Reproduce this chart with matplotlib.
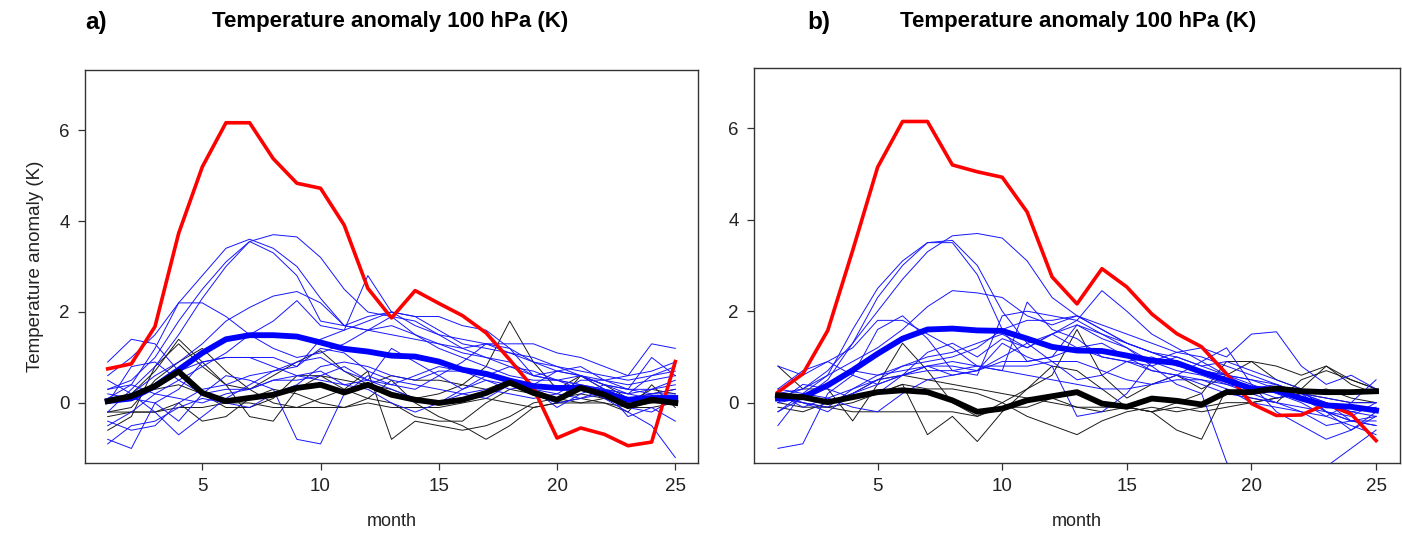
import numpy as np
import matplotlib
matplotlib.use("Agg")
import matplotlib.pyplot as plt

plt.rcParams["font.family"] = ["Liberation Sans", "DejaVu Sans"]

month = np.arange(1, 26)

# ---- panel a ----
red_a = [0.75, 0.86, 1.68, 3.73, 5.19, 6.16, 6.16, 5.37, 4.83, 4.72, 3.91, 2.52, 1.87,
         2.47, 2.19, 1.92, 1.54, 0.95, 0.33, -0.77, -0.55, -0.69, -0.94, -0.86, 0.91]
mean_blue_a = [0.04, 0.10, 0.37, 0.73, 1.10, 1.40, 1.49, 1.49, 1.46, 1.33, 1.19, 1.13, 1.04,
               1.02, 0.91, 0.73, 0.64, 0.49, 0.37, 0.33, 0.33, 0.22, 0.07, 0.11, 0.11]
mean_black_a = [0.04, 0.15, 0.37, 0.69, 0.22, 0.04, 0.11, 0.18, 0.33, 0.40, 0.23, 0.40, 0.18,
                0.07, 0.00, 0.07, 0.22, 0.45, 0.22, 0.07, 0.33, 0.18, -0.07, 0.07, 0.00]

blue_a = [
    [0.3, 0.5, 1.0, 1.8, 2.5, 3.1, 3.55, 3.7, 3.65, 3.2, 2.5, 2.0, 1.9, 1.8, 1.5, 1.2, 1.0, 0.8, 0.7, 0.5, 0.4, 0.3, 0.2, 0.3, 0.4],
    [0.1, 0.4, 1.2, 2.2, 2.8, 3.4, 3.6, 3.4, 3.0, 2.3, 1.7, 1.6, 1.7, 1.5, 1.3, 1.1, 1.0, 0.9, 0.6, 0.5, 0.6, 0.3, 0.1, 0.2, 0.3],
    [-0.2, 0.3, 0.8, 1.5, 2.3, 3.0, 3.55, 3.3, 2.8, 1.8, 1.7, 1.9, 2.0, 1.9, 1.6, 1.3, 1.2, 1.1, 1.0, 0.8, 0.6, 0.5, 0.4, 0.5, 0.6],
    [0.0, 0.2, 0.6, 0.9, 1.3, 1.8, 2.1, 2.35, 2.45, 2.2, 1.7, 1.6, 1.5, 1.4, 1.3, 1.2, 1.3, 1.1, 0.9, 0.8, 0.7, 0.6, 0.5, 0.6, 0.7],
    [0.6, 1.0, 1.5, 2.2, 2.2, 1.9, 1.5, 1.2, 1.0, 1.1, 1.3, 1.6, 1.9, 1.5, 1.2, 1.0, 0.8, 0.6, 0.5, 0.5, 0.4, 0.3, 0.2, 0.1, 0.0],
    [0.9, 1.4, 1.3, 0.7, 0.9, 1.0, 1.0, 1.0, 0.8, 1.4, 1.6, 2.8, 2.0, 1.7, 1.5, 1.4, 1.3, 1.3, 1.3, 1.1, 1.0, 0.8, 0.6, 1.3, 1.2],
    [-0.5, -0.2, 0.2, 0.5, 0.8, 1.1, 1.5, 1.8, 2.25, 1.7, 1.6, 1.8, 2.0, 1.9, 1.9, 1.7, 1.6, 1.2, 0.9, 0.7, 0.8, 0.5, 0.3, 1.0, 0.6],
    [0.2, 0.1, 0.0, -0.4, 0.2, 0.6, 0.5, 0.3, -0.8, -0.9, 0.2, 0.6, 0.4, 0.3, 0.6, 0.9, 1.3, 1.2, 0.6, 0.5, 0.3, 0.1, -0.2, -0.5, -1.2],
    [-0.8, -1.0, 0.0, 0.3, 0.9, 1.0, 1.0, 0.8, 0.6, 0.7, 0.4, 0.5, 1.2, 0.9, 0.6, 0.3, 0.5, 0.3, 0.4, 0.7, 0.6, 0.4, 0.2, 0.6, 0.8],
    [0.3, 0.4, 0.2, 0.1, 0.0, 0.2, 0.3, 0.5, 0.5, 0.6, 0.8, 0.5, 0.3, 0.1, 0.0, 0.3, 0.6, 0.8, 0.6, 0.7, 0.6, 0.4, 0.3, 0.2, 0.2],
    [-0.4, -0.6, -0.5, 0.0, 0.3, 0.4, 0.6, 0.7, 0.9, 1.0, 0.7, 0.5, 0.4, 0.6, 0.8, 0.7, 0.5, 0.4, 0.2, 0.0, 0.1, 0.3, -0.3, -0.1, -0.4],
    [0.0, 0.8, 0.9, 0.5, 0.2, 0.3, 0.3, 0.5, 0.6, 0.5, 0.4, 0.3, 0.0, -0.2, 0.0, 0.2, 0.3, 0.2, 0.1, 0.2, 0.1, 0.2, -0.1, -0.2, 0.1],
    [-0.9, -0.5, -0.4, -0.1, 0.1, 0.0, -0.1, 0.2, 0.4, 0.8, 0.9, 0.8, 0.6, 0.5, 0.7, 0.7, 0.6, 0.5, 0.3, -0.1, 0.2, 0.4, 0.3, 0.3, 0.5],
    [0.5, 0.2, -0.2, -0.7, -0.3, 0.1, 0.4, 0.7, 0.8, 1.2, 1.1, 0.7, 0.5, 0.4, 0.3, 0.2, 0.1, 0.4, 0.3, 0.2, 0.5, 0.5, 0.6, 0.7, 0.9],
]
black_a = [
    [-0.6, -0.3, 0.8, 1.3, 0.8, 0.4, 0.3, 0.6, 0.9, 1.15, 0.7, 0.4, 0.3, 0.1, 0.2, 0.4, 0.8, 1.8, 0.9, 0.3, 0.6, 0.3, 0.1, 0.2, 0.3],
    [-0.2, -0.1, 0.5, 0.9, 1.2, 0.7, 0.3, 0.0, -0.1, 0.1, 0.3, 0.7, -0.8, -0.4, -0.5, -0.6, -0.5, -0.3, 0.0, 0.1, 0.2, 0.1, -0.1, 0.0, 0.1],
    [0.0, 0.2, 0.7, 1.4, 0.9, 0.4, -0.3, -0.4, 0.3, 0.6, 0.5, 0.4, 0.6, 0.5, 0.5, 0.4, 0.3, 0.5, 0.3, 0.1, 0.0, 0.1, 0.0, 0.3, 0.2],
    [-0.3, -0.2, -0.2, 0.0, -0.4, -0.3, 0.1, 0.3, 0.2, 0.0, -0.1, 0.1, 0.5, 0.0, -0.3, -0.5, -0.8, -0.5, -0.1, 0.0, 0.6, 0.4, 0.1, 0.0, 0.0],
    [0.1, 0.2, 0.3, 0.4, 0.2, -0.1, -0.1, 0.1, 0.6, 0.6, 0.3, 0.1, 0.0, -0.3, -0.4, -0.4, 0.0, 0.3, 0.2, 0.0, 0.1, 0.0, -0.2, 0.4, -0.1],
    [-0.2, -0.2, -0.2, -0.1, -0.1, 0.0, 0.0, -0.1, -0.1, -0.1, -0.1, 0.0, -0.1, -0.1, -0.1, 0.0, 0.1, 0.0, -0.1, 0.0, 0.0, 0.0, -0.1, -0.1, 0.0],
]

# ---- panel b ----
red_b = [0.23, 0.63, 1.58, 3.33, 5.15, 6.15, 6.15, 5.20, 5.05, 4.93, 4.17, 2.75, 2.16,
         2.93, 2.53, 1.94, 1.51, 1.22, 0.63, -0.02, -0.28, -0.27, -0.03, -0.25, -0.83]
mean_blue_b = [0.09, 0.12, 0.38, 0.71, 1.07, 1.40, 1.60, 1.62, 1.58, 1.57, 1.40, 1.22, 1.14,
               1.13, 1.03, 0.92, 0.87, 0.67, 0.49, 0.31, 0.27, 0.09, -0.06, -0.09, -0.17]
mean_black_b = [0.16, 0.12, 0.01, 0.12, 0.23, 0.27, 0.23, 0.05, -0.20, -0.13, 0.05, 0.14, 0.23,
                -0.02, -0.09, 0.09, 0.04, -0.04, 0.23, 0.23, 0.31, 0.25, 0.23, 0.23, 0.25]

blue_b = [
    [0.2, 0.3, 0.7, 1.3, 2.0, 2.7, 3.3, 3.65, 3.7, 3.6, 3.1, 2.3, 1.9, 1.7, 1.5, 1.3, 1.1, 1.0, 0.8, 0.6, 0.4, 0.2, 0.0, -0.2, -0.3],
    [0.0, 0.1, 0.5, 1.3, 2.3, 3.0, 3.5, 3.55, 3.0, 2.0, 1.3, 1.5, 1.7, 1.5, 1.3, 1.1, 1.0, 0.8, 0.6, 0.5, 0.3, 0.1, -0.2, -0.4, -0.5],
    [-0.2, 0.2, 0.6, 1.6, 2.5, 3.1, 3.5, 3.5, 2.8, 1.6, 0.9, 1.0, 1.2, 1.0, 0.9, 1.0, 0.8, 0.7, 0.6, 0.4, 0.2, 0.0, -0.3, -0.5, -0.7],
    [0.1, 0.3, 0.6, 0.9, 1.2, 1.6, 2.1, 2.45, 2.4, 2.3, 1.9, 1.7, 1.9, 1.6, 1.3, 1.1, 0.9, 0.7, 0.6, 0.5, 0.4, 0.2, 0.1, 0.0, 0.0],
    [0.3, 0.7, 0.9, 1.2, 1.8, 1.8, 1.5, 1.2, 0.8, 0.7, 2.2, 1.6, 1.4, 1.0, 0.9, 0.8, 1.0, 0.8, 0.9, 0.7, 0.5, 0.3, -0.2, -0.6, -0.2],
    [0.8, 0.6, 0.9, 0.6, 0.4, 0.6, 1.1, 1.3, 1.0, 1.4, 1.2, 1.5, 1.8, 2.45, 2.0, 1.5, 1.2, 0.9, 0.6, 0.3, 0.3, 0.1, 0.0, -0.4, -0.5],
    [-1.0, -0.9, 0.2, 0.6, 1.6, 1.9, 1.4, 0.7, 0.6, 1.9, 2.0, 1.9, 1.8, 1.5, 1.2, 0.9, 0.7, 0.6, 0.4, 0.3, 0.1, 0.2, -0.2, -0.3, 0.0],
    [0.0, 0.4, 0.3, 0.1, 0.2, 0.6, 0.8, 0.8, 0.7, 1.3, 1.0, 0.8, -0.3, -0.2, 0.2, 0.9, 1.1, 1.2, 1.0, 1.5, 1.55, 0.8, 0.4, 0.6, 0.3],
    [-0.2, 0.1, 0.4, 0.7, 0.6, 0.7, 0.8, 0.6, 0.7, 0.9, 0.9, 1.0, 1.7, 1.4, 1.2, 0.8, 0.4, 0.2, -1.3, -2.0, -1.6, -1.5, -1.4, -1.0, -0.6],
    [0.2, -0.1, 0.1, 0.3, 0.5, 0.6, 0.7, 0.7, 0.8, 0.8, 0.8, 0.9, 0.9, 0.7, 0.5, 0.4, 0.6, 0.9, 1.2, 0.4, -0.2, -0.5, -0.8, -0.6, -0.3],
    [0.3, 0.2, 0.0, 0.2, 0.4, 0.6, 0.8, 0.9, 0.8, 0.7, 0.6, 0.5, 0.4, 0.3, 0.3, 0.4, 0.5, 0.5, 0.3, 0.0, -0.1, -0.2, -0.3, 0.0, 0.5],
    [-0.5, 0.2, 0.1, -0.1, -0.2, 0.2, 0.5, 0.6, 0.7, 1.0, 1.3, 0.9, 0.5, 0.6, 0.9, 0.7, 0.6, 0.5, 0.4, 0.2, 0.0, -0.1, -0.2, -0.4, -0.4],
    [0.1, 0.0, -0.1, 0.3, 0.6, 0.8, 0.9, 1.0, 1.2, 1.6, 1.8, 1.8, 1.9, 1.6, 1.3, 1.1, 0.9, 0.7, 0.5, 0.3, 0.4, 0.2, 0.0, -0.2, -0.1],
    [0.2, 0.0, -0.2, 0.2, 0.5, 0.8, 1.0, 1.1, 1.3, 1.5, 1.2, 1.5, 1.2, 1.3, 1.0, 0.7, 0.6, 0.4, 0.2, 0.1, 0.0, -0.2, -0.5, -0.4, -0.3],
]
black_b = [
    [0.8, 0.3, 0.3, -0.4, 0.4, 1.3, 0.7, 0.0, -0.3, 0.0, 0.3, 0.6, 1.6, 0.6, 0.1, 0.4, 0.6, 0.3, 0.6, 0.9, 0.8, 0.6, 0.8, 0.5, 0.3],
    [0.1, 0.0, -0.1, 0.0, 0.2, 0.4, -0.7, -0.3, -0.85, -0.2, 0.3, 0.8, 0.7, 0.3, -0.1, -0.2, -0.6, -0.8, 0.3, 0.1, 0.0, 0.5, 0.7, 0.5, 0.3],
    [-0.1, -0.2, 0.0, 0.1, 0.2, 0.4, 0.3, 0.3, 0.2, 0.0, -0.3, -0.5, -0.7, -0.4, -0.2, -0.1, -0.2, -0.1, 0.0, 0.0, 0.1, 0.2, 0.1, 0.0, 0.0],
    [0.0, -0.1, -0.1, -0.2, -0.2, -0.2, -0.2, -0.2, -0.3, -0.1, -0.1, 0.1, -0.1, -0.2, -0.1, -0.2, -0.1, -0.2, -0.1, 0.0, 0.1, 0.2, 0.3, 0.1, 0.0],
    [0.2, 0.1, 0.0, 0.2, 0.5, 0.6, 0.5, 0.4, 0.3, 0.2, 0.1, 0.0, -0.1, -0.1, -0.1, -0.2, 0.0, 0.2, 0.9, 0.9, 0.5, 0.3, 0.8, 0.4, 0.2],
]

W, H = 1402, 535
fig = plt.figure(figsize=(W / 100, H / 100), dpi=100)


def px_axes(left, right, top, bottom):
    return fig.add_axes([left / W, 1 - bottom / H, (right - left) / W, (bottom - top) / H])


def draw_panel(ax, thin_black, thin_blue, red, mblue, mblack):
    for s in thin_black:
        ax.plot(month, s, color="#1a1a1a", lw=0.7)
    for s in thin_blue:
        ax.plot(month, s, color="#1515ff", lw=0.7)
    ax.plot(month, red, color="#ff0000", lw=2.6)
    ax.plot(month, mblue, color="#0000ff", lw=4.2)
    ax.plot(month, mblack, color="black", lw=4.2)
    ax.set_xlim(0.04, 25.96)
    ax.set_ylim(-1.32, 7.32)
    ax.set_xticks([5, 10, 15, 20, 25])
    ax.set_yticks([0, 2, 4, 6])
    for sp in ax.spines.values():
        sp.set_color("#333333")
        sp.set_linewidth(1.0)
    ax.tick_params(direction="out", length=5, width=0.9, color="#333333",
                   labelsize=13.5, labelcolor="#222222", pad=6)
    ax.set_xlabel("month", fontsize=13, color="#222222", labelpad=13)


ax_a = px_axes(85, 698, 70, 463)
draw_panel(ax_a, black_a, blue_a, red_a, mean_blue_a, mean_black_a)
ax_a.set_ylabel("Temperature anomaly (K)", fontsize=13.5, color="#222222", labelpad=11)

ax_b = px_axes(754, 1400, 68, 463)
draw_panel(ax_b, black_b, blue_b, red_b, mean_blue_b, mean_black_b)

title = "Temperature anomaly 100 hPa (K)"
fig.text(390 / W, 1 - 22 / H, title, ha="center", va="center", fontsize=16, fontweight="bold")
fig.text(1078 / W, 1 - 22 / H, title, ha="center", va="center", fontsize=16, fontweight="bold")
fig.text(85 / W, 1 - 22 / H, "a)", ha="left", va="center", fontsize=17.5, fontweight="bold")
fig.text(807 / W, 1 - 22 / H, "b)", ha="left", va="center", fontsize=17.5, fontweight="bold")

fig.savefig("out.png", dpi=100)
